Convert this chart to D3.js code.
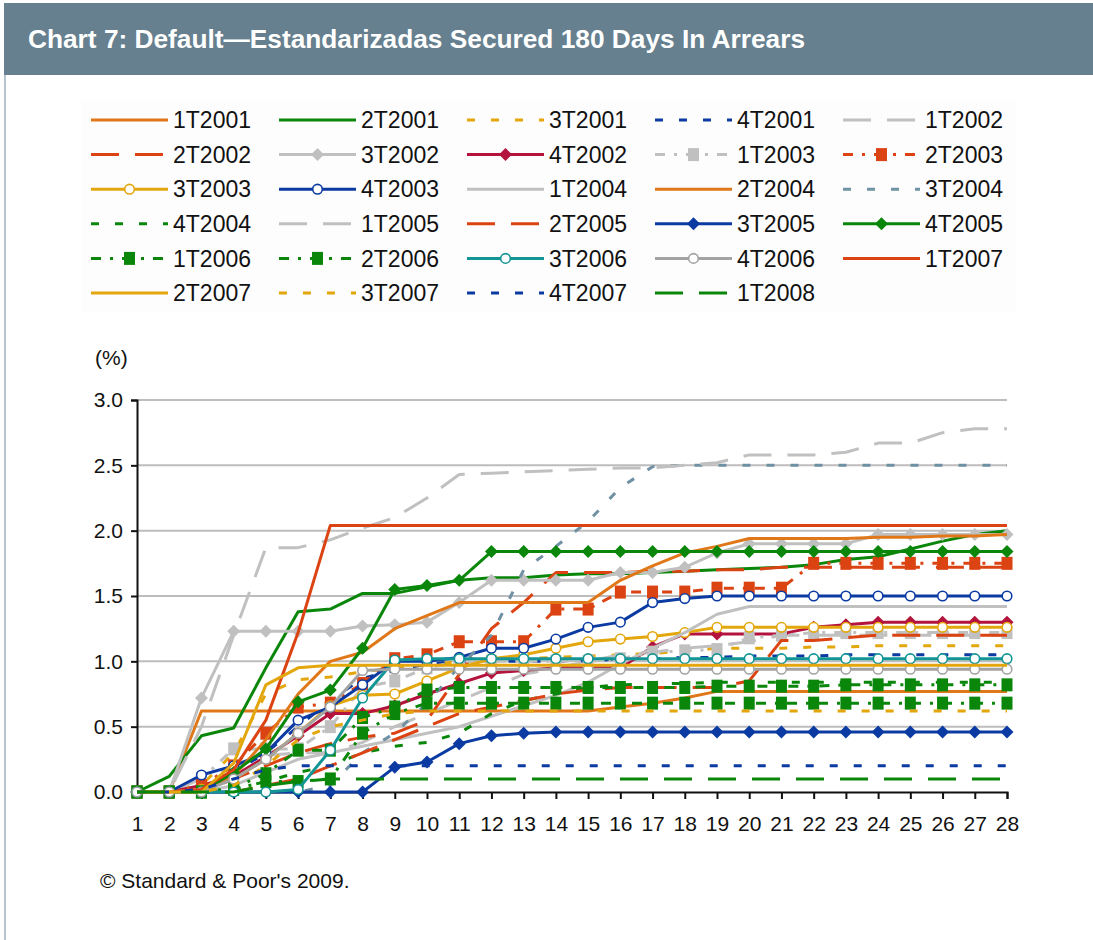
<!DOCTYPE html>
<html><head><meta charset="utf-8">
<script src="https://cdn.jsdelivr.net/npm/d3@7"></script>
<style>body{margin:0;background:#fff;} svg{display:block;font-family:"Liberation Sans",Arial,sans-serif;}</style>
</head><body>
<svg id="c" width="1093" height="940"></svg>
<script>
const periods = [1,2,3,4,5,6,7,8,9,10,11,12,13,14,15,16,17,18,19,20,21,22,23,24,25,26,27,28];
const yTicks = [0, 0.5, 1.0, 1.5, 2.0, 2.5, 3.0];
const seriesNames = ["1T2001","2T2001","3T2001","4T2001","1T2002","2T2002","3T2002","4T2002","1T2003","2T2003",
  "3T2003","4T2003","1T2004","2T2004","3T2004","4T2004","1T2005","2T2005","3T2005","4T2005",
  "1T2006","2T2006","3T2006","4T2006","1T2007","2T2007","3T2007","4T2007","1T2008"];

const s1T2001 = [0,0,0.62,0.62,0.62,0.62,0.62,0.62,0.62,0.62,0.62,0.62,0.62,0.62,0.62,0.65,0.68,0.72,0.77,0.77,0.77,0.77,0.77,0.77,0.77,0.77,0.77,0.77];
const s2T2001 = [0,0.12,0.43,0.49,0.95,1.38,1.4,1.52,1.52,1.57,1.62,1.64,1.64,1.66,1.67,1.67,1.68,1.69,1.7,1.71,1.72,1.74,1.78,1.8,1.86,1.92,1.97,2.0];
const s3T2001 = [0,0,0.05,0.3,0.75,0.86,0.88,0.92,0.95,0.97,1.0,1.0,1.02,1.03,1.04,1.05,1.06,1.08,1.1,1.1,1.1,1.11,1.11,1.12,1.12,1.12,1.12,1.12];
const s4T2001 = [0,0,0.03,0.15,0.3,0.5,0.7,0.87,0.93,0.98,1.0,1.0,1.0,1.0,1.0,1.02,1.02,1.03,1.03,1.04,1.04,1.04,1.05,1.05,1.05,1.05,1.05,1.05];
const s1T2002 = [0,0,0.1,0.2,0.28,0.3,0.3,0.38,0.5,0.6,0.7,0.8,0.9,0.95,1.0,1.05,1.07,1.1,1.12,1.15,1.2,1.2,1.2,1.2,1.2,1.2,1.2,1.2];
const s2T2002 = [0,0,0,0.1,0.2,0.3,0.37,0.42,0.45,0.55,0.9,1.25,1.45,1.68,1.68,1.68,1.69,1.69,1.7,1.7,1.72,1.72,1.72,1.72,1.72,1.72,1.72,1.72];
const s3T2002 = [0,0,0.72,1.23,1.23,1.23,1.23,1.27,1.28,1.3,1.45,1.62,1.62,1.62,1.62,1.68,1.68,1.72,1.83,1.9,1.9,1.9,1.9,1.97,1.97,1.97,1.97,1.97];
const s4T2002 = [0,0,0.05,0.12,0.27,0.43,0.6,0.6,0.66,0.75,0.83,0.91,0.93,0.95,0.95,0.95,1.11,1.21,1.21,1.21,1.21,1.26,1.28,1.3,1.3,1.3,1.3,1.3];
const s1T2003 = [0,0,0.1,0.33,0.33,0.33,0.5,0.8,0.85,0.95,1.0,1.0,1.0,1.0,1.0,1.02,1.07,1.08,1.09,1.18,1.2,1.22,1.22,1.22,1.22,1.22,1.22,1.22];
const s2T2003 = [0,0,0.05,0.2,0.45,0.65,0.68,0.83,1.02,1.05,1.15,1.15,1.15,1.4,1.4,1.53,1.53,1.53,1.56,1.56,1.56,1.75,1.75,1.75,1.75,1.75,1.75,1.75];
const s3T2003 = [0,0,0.02,0.1,0.25,0.45,0.66,0.74,0.75,0.85,0.95,1.02,1.05,1.1,1.15,1.17,1.19,1.22,1.26,1.26,1.26,1.26,1.26,1.26,1.26,1.26,1.26,1.26];
const s4T2003 = [0,0,0.13,0.2,0.3,0.55,0.65,0.82,1.0,1.0,1.03,1.1,1.1,1.17,1.26,1.3,1.45,1.48,1.5,1.5,1.5,1.5,1.5,1.5,1.5,1.5,1.5,1.5];
const s1T2004 = [0,0,0,0.05,0.15,0.25,0.3,0.35,0.4,0.45,0.5,0.58,0.66,0.74,0.84,0.98,1.1,1.22,1.36,1.42,1.42,1.42,1.42,1.42,1.42,1.42,1.42,1.42];
const s2T2004 = [0,0,0,0.12,0.4,0.75,1.0,1.07,1.25,1.35,1.45,1.45,1.45,1.45,1.45,1.62,1.73,1.83,1.88,1.94,1.94,1.94,1.94,1.95,1.95,1.96,1.96,1.97];
const s3T2004 = [0,0,0,0,0,0,0.05,0.3,0.45,0.68,0.96,1.2,1.7,1.88,2.07,2.33,2.49,2.5,2.5,2.5,2.5,2.5,2.5,2.5,2.5,2.5,2.5,2.5];
const s4T2004 = [0,0,0,0.02,0.08,0.15,0.2,0.3,0.35,0.38,0.45,0.6,0.7,0.75,0.8,0.82,0.83,0.83,0.84,0.84,0.84,0.84,0.84,0.84,0.84,0.84,0.84,0.84];
const s1T2005 = [0,0,0.5,1.2,1.87,1.87,1.93,2.02,2.1,2.25,2.43,2.44,2.45,2.46,2.47,2.48,2.48,2.5,2.52,2.58,2.58,2.58,2.6,2.67,2.67,2.75,2.78,2.78];
const s2T2005 = [0,0,0,0,0.05,0.1,0.2,0.3,0.4,0.5,0.6,0.65,0.7,0.75,0.78,0.8,0.8,0.8,0.8,0.85,1.16,1.16,1.18,1.2,1.2,1.2,1.2,1.2];
const s3T2005 = [0,0,0,0,0,0,0,0,0.19,0.23,0.37,0.43,0.45,0.46,0.46,0.46,0.46,0.46,0.46,0.46,0.46,0.46,0.46,0.46,0.46,0.46,0.46,0.46];
const s4T2005 = [0,0,0,0.15,0.33,0.69,0.78,1.1,1.55,1.58,1.62,1.84,1.84,1.84,1.84,1.84,1.84,1.84,1.84,1.84,1.84,1.84,1.84,1.84,1.84,1.84,1.84,1.84];
const s1T2006 = [0,0,0,0.03,0.14,0.32,0.32,0.57,0.65,0.78,0.8,0.8,0.8,0.8,0.8,0.8,0.8,0.8,0.81,0.81,0.81,0.81,0.82,0.82,0.82,0.82,0.82,0.82];
const s2T2006 = [0,0,0,0.02,0.08,0.08,0.1,0.45,0.6,0.68,0.68,0.68,0.68,0.68,0.68,0.68,0.68,0.68,0.68,0.68,0.68,0.68,0.68,0.68,0.68,0.68,0.68,0.68];
const s3T2006 = [0,0,0,0,0,0.02,0.32,0.72,1.01,1.02,1.02,1.02,1.02,1.02,1.02,1.02,1.02,1.02,1.02,1.02,1.02,1.02,1.02,1.02,1.02,1.02,1.02,1.02];
const s4T2006 = [0,0,0,0.1,0.25,0.45,0.65,0.93,0.94,0.94,0.94,0.94,0.94,0.94,0.94,0.94,0.94,0.94,0.94,0.94,0.94,0.94,0.94,0.94,0.94,0.94,0.94,0.94];
const s1T2007 = [0,0,0.02,0.17,0.55,1.22,2.04,2.04,2.04,2.04,2.04,2.04,2.04,2.04,2.04,2.04,2.04,2.04,2.04,2.04,2.04,2.04,2.04,2.04,2.04,2.04,2.04,2.04];
const s2T2007 = [0,0,0,0.22,0.82,0.95,0.97,0.97,0.97,0.97,0.97,0.97,0.97,0.97,0.97,0.97,0.97,0.97,0.97,0.97,0.97,0.97,0.97,0.97,0.97,0.97,0.97,0.97];
const s3T2007 = [0,0,0,0.05,0.2,0.4,0.5,0.55,0.6,0.62,0.62,0.62,0.62,0.62,0.62,0.62,0.62,0.62,0.62,0.62,0.62,0.62,0.62,0.62,0.62,0.62,0.62,0.62];
const s4T2007 = [0,0,0.02,0.1,0.17,0.2,0.2,0.2,0.2,0.2,0.2,0.2,0.2,0.2,0.2,0.2,0.2,0.2,0.2,0.2,0.2,0.2,0.2,0.2,0.2,0.2,0.2,0.2];
const s1T2008 = [0,0,0,0,0.05,0.08,0.1,0.1,0.1,0.1,0.1,0.1,0.1,0.1,0.1,0.1,0.1,0.1,0.1,0.1,0.1,0.1,0.1,0.1,0.1,0.1,0.1,0.1];

const seriesValues = [s1T2001,s2T2001,s3T2001,s4T2001,s1T2002,s2T2002,s3T2002,s4T2002,s1T2003,s2T2003,
  s3T2003,s4T2003,s1T2004,s2T2004,s3T2004,s4T2004,s1T2005,s2T2005,s3T2005,s4T2005,
  s1T2006,s2T2006,s3T2006,s4T2006,s1T2007,s2T2007,s3T2007,s4T2007,s1T2008];

// styles (colour, dash, marker) per series
const C = {orange:"#E0781A", green:"#0A870A", gold:"#E3A60C", blue:"#0B3BA2", lgrey:"#C0C0C0",
  red:"#DC4312", crimson:"#B3133C", slate:"#7090A3", teal:"#139595", grey:"#A3A3A3"};
const SHORT = "8,16", LONG = "28,16", DASHDOT = "10,9,3,9";
const styles = [
  [C.orange,null,null],[C.green,null,null],[C.gold,SHORT,null],[C.blue,SHORT,null],[C.lgrey,LONG,null],
  [C.red,LONG,null],[C.lgrey,null,"diamond"],[C.crimson,null,"diamond"],[C.lgrey,DASHDOT,"square"],[C.red,DASHDOT,"square"],
  [C.gold,null,"circle"],[C.blue,null,"circle"],[C.lgrey,null,null],[C.orange,null,null],[C.slate,SHORT,null],
  [C.green,SHORT,null],[C.lgrey,LONG,null],[C.red,LONG,null],[C.blue,null,"diamond"],[C.green,null,"diamond"],
  [C.green,DASHDOT,"square"],[C.green,DASHDOT,"square"],[C.teal,null,"circle"],[C.grey,null,"circle"],[C.red,null,null],
  [C.gold,null,null],[C.gold,SHORT,null],[C.blue,SHORT,null],[C.green,LONG,null]
];

const svg = d3.select("#c");
const W = 1093, H = 940;

// frame and title bar
svg.append("rect").attr("x",0).attr("y",0).attr("width",W).attr("height",H).attr("fill","#fff");
svg.append("line").attr("x1",5).attr("x2",5).attr("y1",70).attr("y2",H).attr("stroke","#B8C4CC").attr("stroke-width",2);
svg.append("rect").attr("x",4).attr("y",3).attr("width",W-4).attr("height",72).attr("fill","#66808F");
svg.append("text").attr("x",28).attr("y",48).attr("fill","#fff").attr("font-weight","bold")
  .attr("font-size",25).attr("textLength",777).attr("lengthAdjust","spacingAndGlyphs")
  .text("Chart 7: Default\u2014Estandarizadas Secured 180 Days In Arrears");

// legend
const leg = svg.append("g");
leg.append("rect").attr("x",82).attr("y",101).attr("width",934).attr("height",211).attr("fill","#FDFDFD");

function drawMarker(g, type, color, cx, cy) {
  if (!type) return;
  if (type === "diamond") {
    const r = 6.5;
    g.append("path").attr("d",`M${cx},${cy-r}L${cx+r},${cy}L${cx},${cy+r}L${cx-r},${cy}Z`).attr("fill",color);
  } else if (type === "square") {
    g.append("rect").attr("x",cx-5.5).attr("y",cy-6.5).attr("width",11).attr("height",13).attr("fill",color);
  } else if (type === "circle") {
    g.append("circle").attr("cx",cx).attr("cy",cy).attr("r",4.8).attr("fill","#fff").attr("stroke",color).attr("stroke-width",1.6);
  }
}

seriesNames.forEach((name, i) => {
  const col = i % 5, row = Math.floor(i / 5);
  const x0 = 91 + col * 188, y0 = 120 + row * 34.6;
  const [color, dash, marker] = styles[i];
  const g = leg.append("g");
  g.append("line").attr("x1",x0).attr("x2",x0+77).attr("y1",y0).attr("y2",y0)
    .attr("stroke",color).attr("stroke-width",3).attr("stroke-dasharray",dash);
  drawMarker(g, marker, color, x0+38.5, y0);
  g.append("text").attr("x",x0+82).attr("y",y0).attr("dy","0.36em").attr("font-size",23).attr("fill","#111").text(name);
});

// chart
const x = d3.scaleLinear().domain([1,28]).range([137,1007]);
const y = d3.scaleLinear().domain([0,3]).range([792,400]);

svg.append("text").attr("x",95).attr("y",357).attr("dy","0.36em").attr("font-size",21).attr("fill","#111").text("(%)");

// gridlines
svg.append("g").selectAll("line").data(yTicks.filter(v=>v>0)).join("line")
  .attr("x1",137).attr("x2",1007).attr("y1",d=>y(d)).attr("y2",d=>y(d))
  .attr("stroke","#BDBDBD").attr("stroke-width",2);

const yAxis = svg.append("g").attr("transform","translate(137,0)")
  .call(d3.axisLeft(y).tickValues(yTicks).tickFormat(d3.format(".1f")).tickSize(6).tickPadding(8));
const xAxis = svg.append("g").attr("transform","translate(0,792)")
  .call(d3.axisBottom(x).tickValues(periods).tickFormat(d3.format("d")).tickSize(7).tickPadding(17));
[yAxis, xAxis].forEach(a => {
  a.select(".domain").attr("stroke","#111").attr("stroke-width",2);
  a.selectAll(".tick line").attr("stroke","#111").attr("stroke-width",2);
  a.selectAll("text").attr("font-size",21).attr("fill","#111").attr("font-family","'Liberation Sans',Arial,sans-serif");
});

// series
const line = d3.line().x((d,i)=>x(periods[i])).y(d=>y(d));
const plot = svg.append("g");
seriesValues.forEach((vals, i) => {
  const [color, dash, marker] = styles[i];
  const g = plot.append("g");
  g.append("path").attr("d", line(vals)).attr("fill","none").attr("stroke",color)
    .attr("stroke-width",3).attr("stroke-dasharray",dash).attr("stroke-linejoin","round");
  if (marker) vals.forEach((v, j) => drawMarker(g, marker, color, x(periods[j]), y(v)));
});

// source
svg.append("text").attr("x",100).attr("y",880).attr("dy","0.36em").attr("font-size",21).attr("fill","#111")
  .text("\u00A9 Standard & Poor's 2009.");
</script>
</body></html>
